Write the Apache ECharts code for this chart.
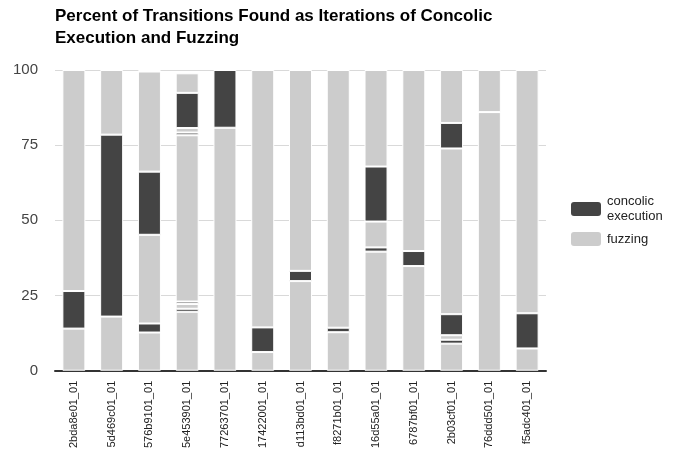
<!DOCTYPE html>
<html>
<head>
<meta charset="utf-8">
<script src="https://cdn.jsdelivr.net/npm/echarts@6/dist/echarts.min.js"></script>
<style>
  body { margin: 0; background: #fff; }
  #chart { width: 678px; height: 451px; }
</style>
</head>
<body>
<div id="chart"></div>
<script>
// runs, in bar order
const runs = ['2bda8e01_01', '5d469c01_01', '576b9101_01', '5e453901_01', '77263701_01', '17422001_01',
  'd113bd01_01', 'f8271b01_01', '16d55a01_01', '6787bf01_01', '2b03cf01_01', '76ddd501_01', 'f5adc401_01']

// percent found in each iteration, alternating fuzzing / concolic
const fuzz1 = [14.0, 18.0, 12.7, 19.6, 80.8, 6.2, 29.8, 12.8, 39.6, 34.8, 9.0, 86.0, 7.4]
const conc1 = [12.5, 60.5, 3.0, 1.0, 19.2, 8.2, 3.4, 1.5, 1.4, 5.0, 1.3, 0, 11.7]
const fuzz2 = [73.5, 21.5, 29.5, 1.6, null, 85.6, 66.8, 85.7, 8.6, 60.2, 1.5, 14.0, 80.9]
const conc2 = [null, null, 21.0, 0.8, null, null, null, null, 18.3, null, 7.0, null, null]
const fuzz3 = [null, null, 33.3, 55.3, null, null, null, null, 32.1, null, 55.1, null, null]
const conc3 = [null, null, 0.5, 0.9, null, null, null, null, null, null, 8.5, null, null]
const fuzz4 = [null, null, null, 1.5, null, null, null, null, null, null, 17.6, null, null]
const conc4 = [null, null, null, 11.7, null, null, null, null, null, null, null, null, null]
const fuzz5 = [null, null, null, 6.5, null, null, null, null, null, null, null, null, null]

const yTicks = [0, 25, 50, 75, 100]

const FUZZ = 'fuzzing'
const CONC = 'concolic execution'
const colors = { [FUZZ]: '#cccccc', [CONC]: '#444444' }

const iterations = [
  [FUZZ, fuzz1], [CONC, conc1], [FUZZ, fuzz2], [CONC, conc2], [FUZZ, fuzz3],
  [CONC, conc3], [FUZZ, fuzz4], [CONC, conc4], [FUZZ, fuzz5]
]

let chart = echarts.init(document.getElementById('chart'))
chart.setOption({
  animation: false,
  textStyle: { fontFamily: 'Liberation Sans, Arial, sans-serif' },
  title: {
    text: 'Percent of Transitions Found as Iterations of Concolic\nExecution and Fuzzing',
    left: 50,
    top: 0,
    textStyle: { fontSize: 17, fontWeight: 'bold', color: '#000', lineHeight: 22 }
  },
  legend: {
    orient: 'vertical',
    left: 564,
    top: 189,
    itemWidth: 32,
    itemHeight: 16,
    itemGap: 6,
    data: [CONC, FUZZ],
    formatter: name => name.replace(' ', '\n'),
    textStyle: { fontSize: 13, color: '#222', lineHeight: 15 }
  },
  grid: { left: 55, right: 132, top: 70, bottom: 77 },
  xAxis: {
    type: 'category',
    data: runs,
    axisTick: { show: false },
    axisLine: { lineStyle: { color: '#333', width: 2 } },
    axisLabel: { rotate: 90, fontSize: 11, color: '#222', margin: 10 }
  },
  yAxis: {
    type: 'value',
    min: yTicks[0],
    max: yTicks[yTicks.length - 1],
    interval: 25,
    axisLine: { show: false },
    axisTick: { show: false },
    axisLabel: { fontSize: 15, color: '#444', margin: 17 },
    splitLine: { lineStyle: { color: '#d9d9d9', width: 1 } }
  },
  series: iterations.map(([name, values]) => ({
    name: name,
    type: 'bar',
    stack: 'total',
    barWidth: 23,
    data: values,
    itemStyle: { color: colors[name], borderColor: '#fff', borderWidth: 1 }
  }))
})
</script>
</body>
</html>
